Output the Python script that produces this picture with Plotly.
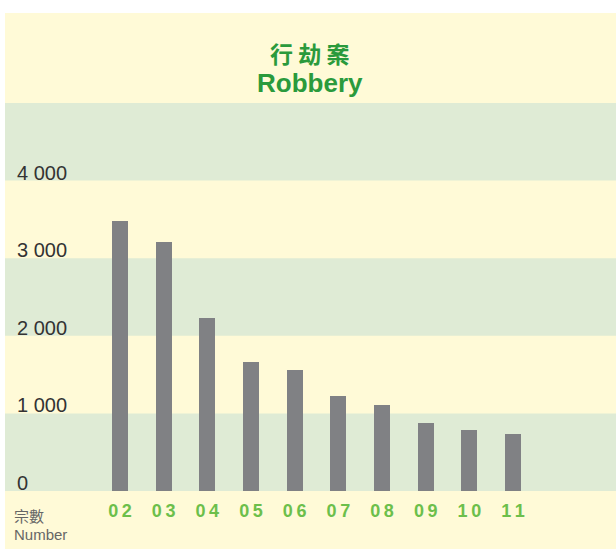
import plotly.graph_objects as go

categories = ["02", "03", "04", "05", "06", "07", "08", "09", "10", "11"]
values = [3475, 3205, 2230, 1665, 1565, 1218, 1105, 872, 782, 731]
ytick_vals = [0, 1000, 2000, 3000, 4000]
ytick_text = ["0", "1 000", "2 000", "3 000", "4 000"]

YELLOW = "#FFFAD7"
GREEN_BAND = "#DFEBD5"
BAR = "#808184"
TITLE_GREEN = "#2A9A3C"
TICK_GREEN = "#6CBF4B"

W, H = 616, 549
ml, mr, mt, mb = 5, 0, 103, 58
ph = H - mt - mb

fig = go.Figure()
fig.add_trace(go.Bar(
    x=list(range(len(categories))), y=values,
    marker=dict(color=BAR, line=dict(width=0)),
    width=0.366,
))

shapes = [dict(type="rect", xref="paper", yref="paper",
               x0=0, x1=1, y0=-mb / ph, y1=1 + (mt - 13) / ph,
               fillcolor=YELLOW, line=dict(width=0), layer="below")]
for lo in (0, 2000, 4000):
    shapes.append(dict(type="rect", xref="paper", yref="y",
                       x0=0, x1=1, y0=lo, y1=lo + 1000,
                       fillcolor=GREEN_BAND, line=dict(width=0), layer="below"))

annotations = []
for v, t in zip(ytick_vals, ytick_text):
    annotations.append(dict(x=0, xref="paper", y=v, yref="y", text=t,
                            showarrow=False, xanchor="left", yanchor="bottom",
                            xshift=10, yshift=-5,
                            font=dict(family="Liberation Sans, Arial", size=20, color="#333333")))
annotations.append(dict(x=0, xref="paper", y=0, yref="paper", text="宗數",
                        showarrow=False, xanchor="left", yanchor="top", xshift=7, yshift=-12,
                        font=dict(family="Noto Sans CJK TC", size=15, color="#666666")))
annotations.append(dict(x=0, xref="paper", y=0, yref="paper", text="Number",
                        showarrow=False, xanchor="left", yanchor="top", xshift=7, yshift=-33,
                        font=dict(family="Liberation Sans, Arial", size=15, color="#666666")))
annotations.append(dict(x=0.5, xref="paper", y=1, yref="paper", text="<b>行 劫 案</b>",
                        showarrow=False, xanchor="center", yanchor="middle", xshift=-1, yshift=50,
                        font=dict(family="Noto Sans CJK TC", size=23, color=TITLE_GREEN)))
annotations.append(dict(x=0.5, xref="paper", y=1, yref="paper", text="<b>Robbery</b>",
                        showarrow=False, xanchor="center", yanchor="middle", xshift=-1, yshift=20,
                        font=dict(family="Liberation Sans, Arial", size=26, color=TITLE_GREEN)))

fig.update_layout(
    width=W, height=H,
    margin=dict(l=ml, r=mr, t=mt, b=mb),
    paper_bgcolor="white", plot_bgcolor="rgba(0,0,0,0)",
    showlegend=False,
    shapes=shapes, annotations=annotations,
    xaxis=dict(range=[-2.632, 11.357], tickvals=list(range(len(categories))),
               ticktext=[f"<b>{c[0]}\u2009{c[1]}</b>" for c in categories],
               showgrid=False, zeroline=False, showline=False,
               ticks="outside", ticklen=3, tickcolor="rgba(0,0,0,0)",
               tickfont=dict(family="Liberation Sans, Arial", size=18, color=TICK_GREEN)),
    yaxis=dict(range=[0, 5000], showgrid=False, zeroline=False, showline=False,
               showticklabels=False, ticks=""),
    bargap=0,
)

fig.write_html("out.html", config={"displayModeBar": False},
               post_script="document.body.style.margin='0';")
